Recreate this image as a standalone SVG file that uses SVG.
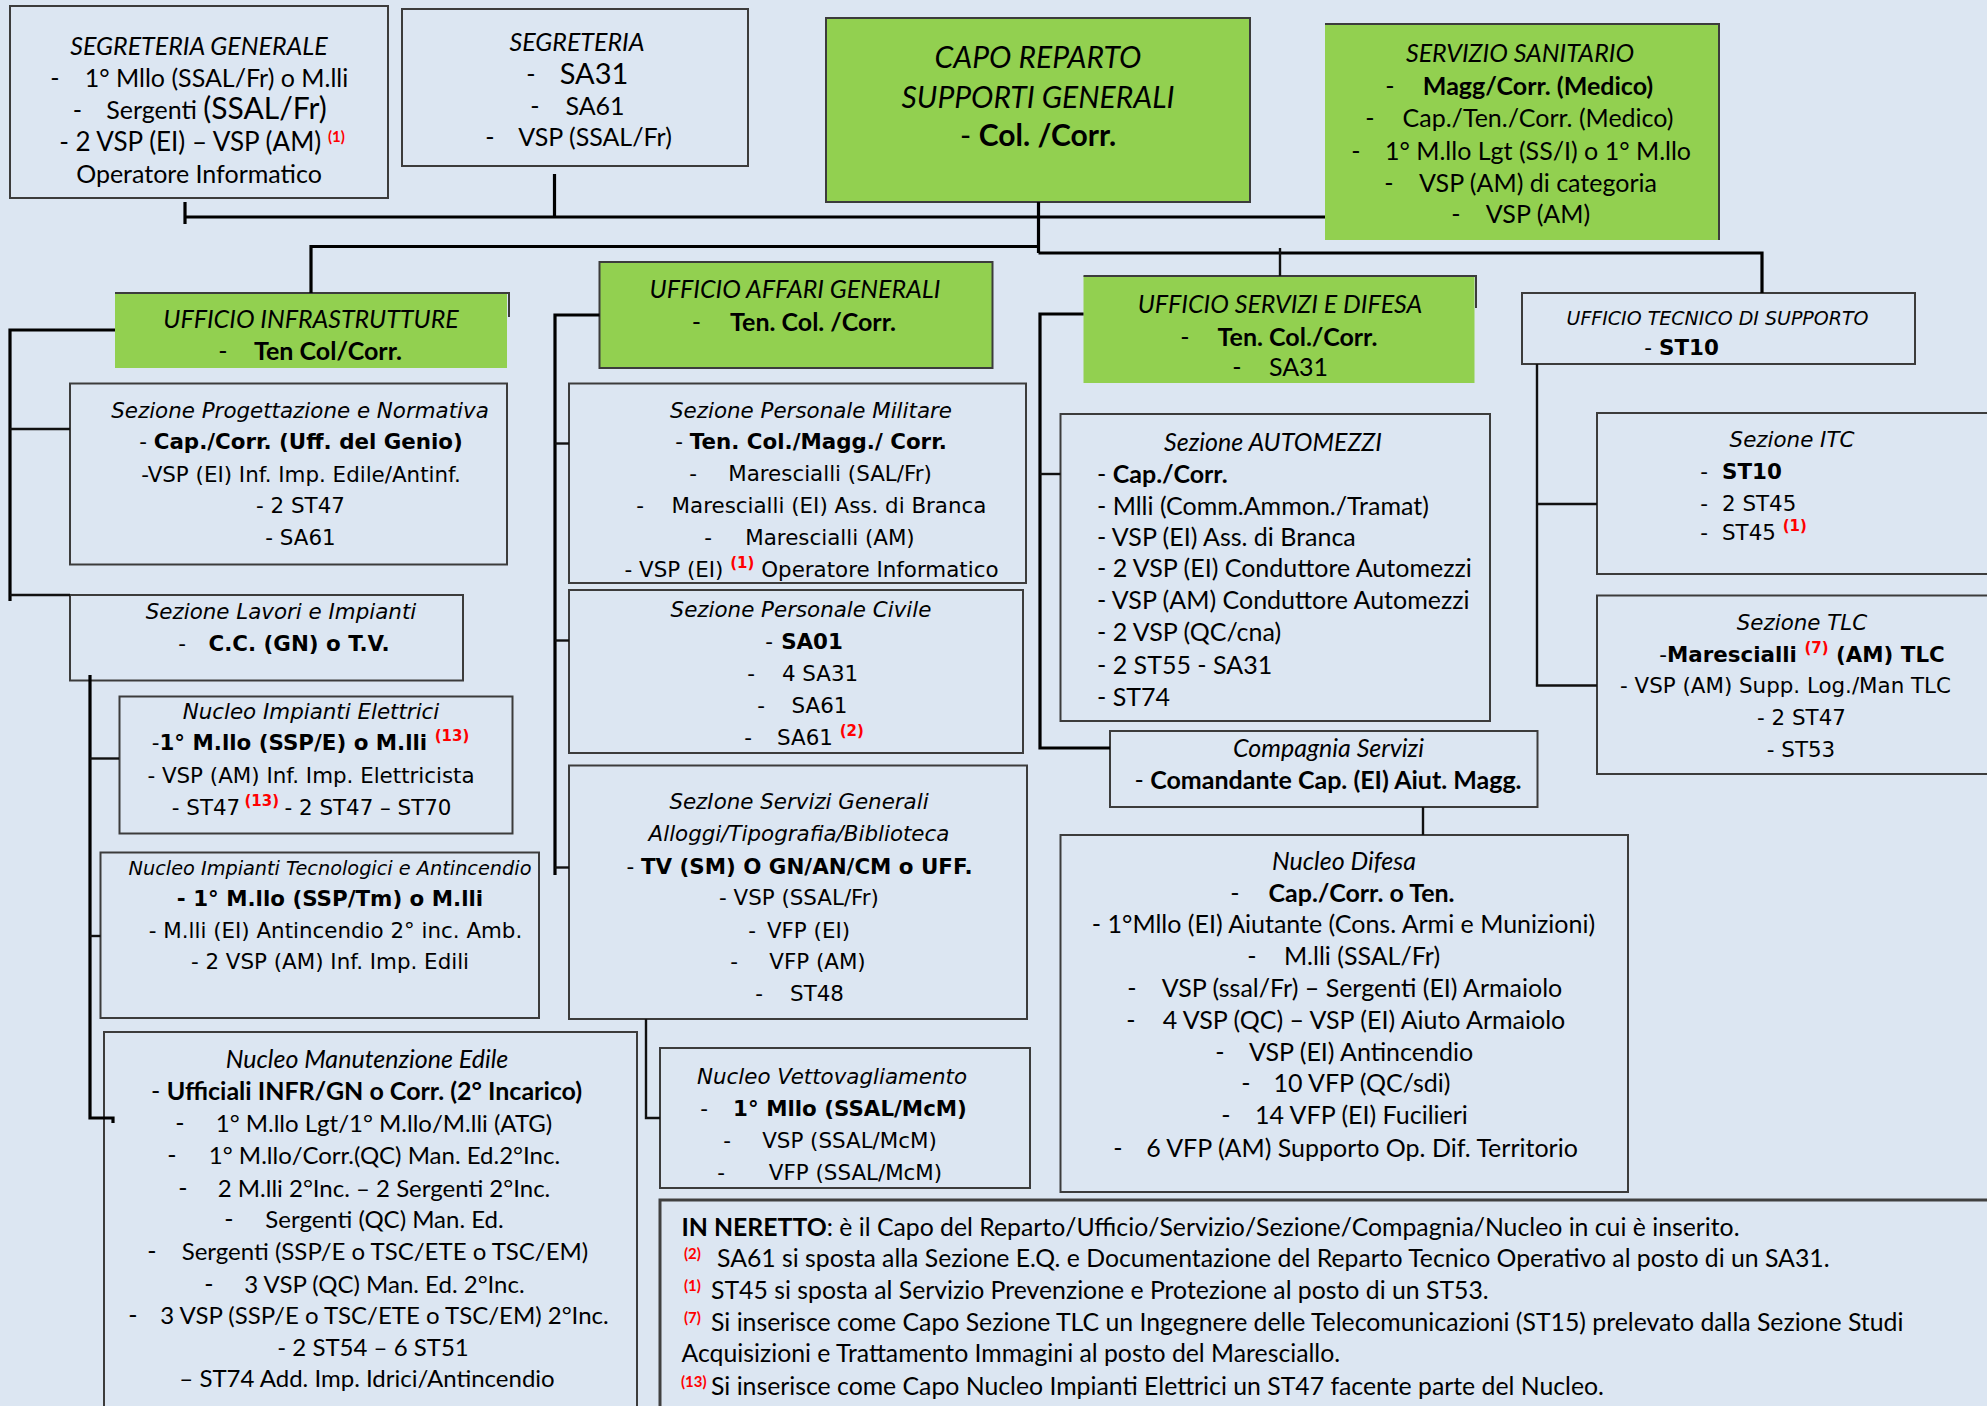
<svg xmlns="http://www.w3.org/2000/svg" width="1987" height="1406" viewBox="0 0 1987 1406">
<style>
.bg{fill:#DCE6F2}
.box{fill:#DCE6F2;stroke:#3C3C3C;stroke-width:2}
.gbox{fill:#92D050;stroke:#3C3C3C;stroke-width:2}
.gfill{fill:#92D050}
.edge{fill:none;stroke:#3C3C3C;stroke-width:2}
.leg{fill:#DCE6F2;stroke:#404040;stroke-width:3}
.bus{fill:none;stroke:#000;stroke-width:3.2}
.br{fill:none;stroke:#111;stroke-width:2.4}
text{fill:#000}
.c{font-family:Lato,"Liberation Sans",sans-serif;font-size:25px}
.v{font-family:"DejaVu Sans",Verdana,sans-serif;font-size:21.4px}
.i{font-style:italic}
.b{font-weight:bold}
.m{text-anchor:middle}
.s{fill:#FF0000;font-weight:bold;font-size:15px;font-style:normal}
.n24{font-size:24px}
.lg{font-size:24.8px}
</style>
<rect class="bg" x="0" y="0" width="1987" height="1406"/>

<g id="segreteria-generale">
<rect class="box" x="10" y="6" width="378" height="192"/>
<text class="c i m" x="199" y="55">SEGRETERIA GENERALE</text>
<text class="c m" x="55" y="87">-</text>
<text class="c m" x="216.5" y="87">1° Mllo (SSAL/Fr) o M.lli</text>
<text class="c m" x="77.5" y="119">-</text>
<text class="c m" x="216.5" y="119">Sergenti <tspan style="font-size:30px">(SSAL/Fr)</tspan></text>
<text class="c m" x="202" y="151" style="font-size:26px">- 2 VSP (EI) – VSP (AM) <tspan class="s" dy="-9">(1)</tspan></text>
<text class="c m" x="199" y="183">Operatore Informatico</text>
</g>

<g id="segreteria">
<rect class="box" x="402" y="9" width="346" height="157"/>
<text class="c i m" x="577" y="51">SEGRETERIA</text>
<text class="c m" x="531" y="83">-</text>
<text class="c m" x="594" y="84" style="font-size:29px">SA31</text>
<text class="c m" x="535" y="115">-</text>
<text class="c m" x="595" y="115">SA61</text>
<text class="c m" x="490" y="146">-</text>
<text class="c m" x="595" y="146">VSP (SSAL/Fr)</text>
</g>

<g id="capo-reparto">
<rect class="gbox" x="826" y="18" width="424" height="184"/>
<text class="c i m" x="1038" y="68" style="font-size:30px">CAPO REPARTO</text>
<text class="c i m" x="1038" y="108" style="font-size:30px">SUPPORTI GENERALI</text>
<text class="c m" x="1038" y="146" style="font-size:30px">- <tspan class="b">Col. /Corr.</tspan></text>
</g>

<g id="servizio-sanitario">
<rect class="gfill" x="1325" y="24" width="394" height="216"/>
<path class="edge" d="M1325 24 H1719 V240"/>
<text class="c i m" x="1520" y="62">SERVIZIO SANITARIO</text>
<text class="c m" x="1390" y="95">-</text>
<text class="c b m" x="1538" y="95">Magg/Corr. (Medico)</text>
<text class="c m" x="1370" y="127">-</text>
<text class="c m" x="1538" y="127">Cap./Ten./Corr. (Medico)</text>
<text class="c m" x="1356" y="160">-</text>
<text class="c m" x="1538" y="160">1° M.llo Lgt (SS/I) o 1° M.llo</text>
<text class="c m" x="1389" y="192">-</text>
<text class="c m" x="1538" y="192">VSP (AM) di categoria</text>
<text class="c m" x="1456" y="223">-</text>
<text class="c m" x="1538" y="223">VSP (AM)</text>
</g>

<g id="ufficio-infrastrutture">
<rect class="gfill" x="115" y="293" width="392" height="75"/>
<path class="edge" d="M115 293 H509 V317"/>
<text class="c i m" x="311" y="328">UFFICIO INFRASTRUTTURE</text>
<text class="c m" x="223" y="360">-</text>
<text class="c b m" x="328" y="360">Ten Col/Corr.</text>
</g>

<g id="ufficio-affari-generali">
<rect class="gbox" x="599.5" y="262" width="393" height="106"/>
<text class="c i m" x="795" y="298">UFFICIO AFFARI GENERALI</text>
<text class="c m" x="696.5" y="331">-</text>
<text class="c b m" x="813" y="331">Ten. Col. /Corr.</text>
</g>

<g id="ufficio-servizi-difesa">
<rect class="gfill" x="1083.5" y="276" width="391" height="107"/>
<path class="edge" d="M1083.5 276 H1476 V308"/>
<text class="c i m" x="1280" y="313">UFFICIO SERVIZI E DIFESA</text>
<text class="c m" x="1185" y="346">-</text>
<text class="c b m" x="1297.5" y="346">Ten. Col./Corr.</text>
<text class="c m" x="1237" y="376">-</text>
<text class="c m" x="1298.5" y="376">SA31</text>
</g>

<g id="ufficio-tecnico">
<rect class="box" x="1522" y="293" width="393" height="71"/>
<text class="v i m" x="1717.5" y="325" style="font-size:19px">UFFICIO TECNICO DI SUPPORTO</text>
<text class="v m" x="1648" y="355">-</text>
<text class="v b m" x="1689" y="355">ST10</text>
</g>

<g id="sezione-progettazione">
<rect class="box" x="70" y="383.5" width="437" height="181"/>
<text class="v i m" x="300" y="417.5">Sezione Progettazione e Normativa</text>
<text class="v m" x="301" y="449">- <tspan class="b">Cap./Corr. (Uff. del Genio)</tspan></text>
<text class="v m" x="301" y="481.5">-VSP (EI) Inf. Imp. Edile/Antinf.</text>
<text class="v m" x="300.5" y="513">- 2 ST47</text>
<text class="v m" x="300.5" y="545">- SA61</text>
</g>

<g id="sezione-lavori">
<rect class="box" x="70" y="595" width="393" height="85.5"/>
<text class="v i m" x="281" y="618.5">Sezione Lavori e Impianti</text>
<text class="v m" x="182" y="651">-</text>
<text class="v b m" x="299" y="651">C.C. (GN) o T.V.</text>
</g>

<g id="nucleo-impianti-elettrici">
<rect class="box" x="119.5" y="696.5" width="393" height="137"/>
<text class="v i m" x="311" y="718.5">Nucleo Impianti Elettrici</text>
<text class="v m" x="310.5" y="750">-<tspan class="b">1° M.llo (SSP/E) o M.lli </tspan><tspan class="s" dy="-9">(13)</tspan></text>
<text class="v m" x="311" y="782.5">- VSP (AM) Inf. Imp. Elettricista</text>
<text class="v m" x="206" y="814.5">- ST47</text>
<text class="v s" x="244.5" y="805.5">(13)</text>
<text class="v m" x="368" y="814.5">- 2 ST47 – ST70</text>
</g>

<g id="nucleo-impianti-tecnologici">
<rect class="box" x="100.5" y="852.5" width="438.5" height="165.5"/>
<text class="v i m" x="330" y="875" style="font-size:19.3px">Nucleo Impianti Tecnologici e Antincendio</text>
<text class="v b m" x="330" y="905.5">- 1° M.llo (SSP/Tm) o M.lli</text>
<text class="v m" x="335.5" y="937.5">- M.lli (EI) Antincendio 2° inc. Amb.</text>
<text class="v m" x="330" y="968.5">- 2 VSP  (AM) Inf. Imp. Edili</text>
</g>

<g id="nucleo-manutenzione-edile">
<rect class="box" x="104" y="1032" width="533" height="400"/>
<text class="c i m" x="367" y="1068">Nucleo Manutenzione Edile</text>
<text class="c m" x="366.5" y="1100">- <tspan class="b">Ufficiali INFR/GN o Corr. (2° Incarico)</tspan></text>
<text class="c m" x="180" y="1132">-</text>
<text class="c m n24" x="384" y="1132">1° M.llo Lgt/1° M.llo/M.lli (ATG)</text>
<text class="c m" x="172" y="1164">-</text>
<text class="c m n24" x="384.5" y="1164">1° M.llo/Corr.(QC) Man. Ed.2°Inc.</text>
<text class="c m" x="183" y="1197">-</text>
<text class="c m n24" x="384" y="1197">2 M.lli 2°Inc. – 2 Sergenti 2°Inc.</text>
<text class="c m" x="229" y="1228">-</text>
<text class="c m n24" x="384.5" y="1228">Sergenti (QC) Man. Ed.</text>
<text class="c m" x="152" y="1260">-</text>
<text class="c m n24" x="385" y="1260">Sergenti (SSP/E o TSC/ETE o TSC/EM)</text>
<text class="c m" x="209" y="1293">-</text>
<text class="c m n24" x="384.5" y="1293">3 VSP (QC) Man. Ed. 2°Inc.</text>
<text class="c m" x="133" y="1324">-</text>
<text class="c m n24" x="384.5" y="1324">3 VSP (SSP/E o TSC/ETE o TSC/EM) 2°Inc.</text>
<text class="c m n24" x="373" y="1356">- 2 ST54 – 6 ST51</text>
<text class="c m n24" x="367" y="1387">–  ST74 Add. Imp. Idrici/Antincendio</text>
</g>

<g id="sezione-personale-militare">
<rect class="box" x="569" y="383.5" width="457" height="199.5"/>
<text class="v i m" x="811" y="417.5">Sezione Personale Militare</text>
<text class="v m" x="811" y="449">- <tspan class="b">Ten. Col./Magg./ Corr.</tspan></text>
<text class="v m" x="693" y="480.5">-</text>
<text class="v m" x="830" y="480.5">Marescialli (SAL/Fr)</text>
<text class="v m" x="640" y="513">-</text>
<text class="v m" x="829" y="513">Marescialli (EI) Ass. di Branca</text>
<text class="v m" x="708" y="545">-</text>
<text class="v m" x="830" y="545">Marescialli (AM)</text>
<text class="v m" x="811.5" y="576.5">- VSP (EI) <tspan class="s" dy="-9">(1)</tspan><tspan dy="9"> Operatore Informatico</tspan></text>
</g>

<g id="sezione-personale-civile">
<rect class="box" x="569" y="590" width="454" height="163"/>
<text class="v i m" x="801" y="616.5">Sezione Personale Civile</text>
<text class="v m" x="769" y="649">-</text>
<text class="v b m" x="812" y="649">SA01</text>
<text class="v m" x="751" y="680.5">-</text>
<text class="v m" x="820" y="680.5">4 SA31</text>
<text class="v m" x="761" y="713">-</text>
<text class="v m" x="819.5" y="713">SA61</text>
<text class="v m" x="748" y="744.5">-</text>
<text class="v m" x="820.5" y="744.5">SA61 <tspan class="s" dy="-9">(2)</tspan></text>
</g>

<g id="sezione-servizi-generali">
<rect class="box" x="569" y="765.5" width="458" height="253.5"/>
<text class="v i m" x="799" y="808.5">SezIone Servizi Generali</text>
<text class="v i m" x="799" y="840.5">Alloggi/Tipografia/Biblioteca</text>
<text class="v m" x="799.5" y="873.5">- <tspan class="b">TV (SM) O GN/AN/CM o UFF.</tspan></text>
<text class="v m" x="799" y="904.5">- VSP (SSAL/Fr)</text>
<text class="v m" x="752" y="937.5">-</text>
<text class="v m" x="808.5" y="937.5">VFP (EI)</text>
<text class="v m" x="734" y="968.5">-</text>
<text class="v m" x="817.5" y="968.5">VFP (AM)</text>
<text class="v m" x="759" y="1000.5">-</text>
<text class="v m" x="817" y="1000.5">ST48</text>
</g>

<g id="nucleo-vettovagliamento">
<rect class="box" x="660" y="1048" width="370" height="140"/>
<text class="v i m" x="832" y="1083.5">Nucleo Vettovagliamento</text>
<text class="v m" x="704" y="1115.5">-</text>
<text class="v b m" x="850" y="1115.5">1° Mllo (SSAL/McM)</text>
<text class="v m" x="727" y="1147.5">-</text>
<text class="v m" x="849.5" y="1147.5">VSP (SSAL/McM)</text>
<text class="v m" x="721" y="1179.5">-</text>
<text class="v m" x="855.5" y="1179.5">VFP (SSAL/McM)</text>
</g>

<g id="sezione-automezzi">
<rect class="box" x="1060.5" y="414" width="429.5" height="307"/>
<text class="c i m" x="1273" y="451">Sezione AUTOMEZZI</text>
<text class="c" x="1097" y="483">- <tspan class="b">Cap./Corr.</tspan></text>
<text class="c" x="1097" y="515">- Mlli (Comm.Ammon./Tramat)</text>
<text class="c" x="1097" y="546">- VSP (EI) Ass. di Branca</text>
<text class="c" x="1097" y="577">- 2 VSP (EI) Conduttore Automezzi</text>
<text class="c" x="1097" y="609">- VSP (AM) Conduttore Automezzi</text>
<text class="c" x="1097" y="641">- 2 VSP (QC/cna)</text>
<text class="c" x="1097" y="674">- 2 ST55 - SA31</text>
<text class="c" x="1097" y="706">- ST74</text>
</g>

<g id="compagnia-servizi">
<rect class="box" x="1110" y="731" width="427.5" height="76"/>
<text class="c i m" x="1328.5" y="757">Compagnia Servizi</text>
<text class="c m" x="1328" y="789">- <tspan class="b">Comandante Cap. (EI) Aiut. Magg.</tspan></text>
</g>

<g id="nucleo-difesa">
<rect class="box" x="1060.5" y="835" width="567.5" height="357"/>
<text class="c i m" x="1344" y="870">Nucleo Difesa</text>
<text class="c m" x="1235" y="902">-</text>
<text class="c b m" x="1361.5" y="902">Cap./Corr. o Ten.</text>
<text class="c m" x="1343.5" y="933">- 1°Mllo (EI) Aiutante (Cons. Armi e Munizioni)</text>
<text class="c m" x="1252" y="965">-</text>
<text class="c m" x="1362" y="965">M.lli (SSAL/Fr)</text>
<text class="c m" x="1132" y="997">-</text>
<text class="c m" x="1362" y="997">VSP (ssal/Fr) – Sergenti (EI) Armaiolo</text>
<text class="c m" x="1131" y="1029">-</text>
<text class="c m" x="1364" y="1029">4 VSP (QC) – VSP (EI) Aiuto Armaiolo</text>
<text class="c m" x="1220" y="1061">-</text>
<text class="c m" x="1361" y="1061">VSP (EI) Antincendio</text>
<text class="c m" x="1246" y="1092">-</text>
<text class="c m" x="1362" y="1092">10 VFP (QC/sdi)</text>
<text class="c m" x="1226" y="1124">-</text>
<text class="c m" x="1361.5" y="1124">14 VFP (EI) Fucilieri</text>
<text class="c m" x="1118" y="1157">-</text>
<text class="c m" x="1362" y="1157">6 VFP (AM) Supporto Op. Dif. Territorio</text>
</g>

<g id="sezione-itc">
<rect class="box" x="1597" y="413" width="400" height="161"/>
<text class="v i m" x="1792" y="447">Sezione ITC</text>
<text class="v m" x="1704" y="478.5">-</text>
<text class="v b" x="1722" y="478.5">ST10</text>
<text class="v m" x="1704" y="510.5">-</text>
<text class="v" x="1722" y="510.5">2 ST45</text>
<text class="v m" x="1704" y="539.5">-</text>
<text class="v" x="1722" y="539.5">ST45 <tspan class="s" dy="-9">(1)</tspan></text>
</g>

<g id="sezione-tlc">
<rect class="box" x="1597" y="595.5" width="400" height="178.5"/>
<text class="v i m" x="1802" y="629.5">Sezione TLC</text>
<text class="v m" x="1802" y="661.5">-<tspan class="b">Marescialli </tspan><tspan class="s" dy="-9">(7)</tspan><tspan class="b" dy="9"> (AM) TLC</tspan></text>
<text class="v m" x="1785.5" y="693">- VSP (AM) Supp. Log./Man TLC</text>
<text class="v m" x="1801.5" y="724.5">- 2 ST47</text>
<text class="v m" x="1801" y="756.5">- ST53</text>
</g>

<g id="legenda">
<rect class="leg" x="660" y="1200" width="1340" height="220"/>
<text class="c lg" x="681.5" y="1236"><tspan class="b">IN NERETTO</tspan>: è il Capo del Reparto/Ufficio/Servizio/Sezione/Compagnia/Nucleo in cui è inserito.</text>
<text class="c s" x="684" y="1259">(2)</text>
<text class="c lg" x="717" y="1267">SA61 si sposta alla Sezione E.Q. e Documentazione del Reparto Tecnico Operativo al posto di un SA31.</text>
<text class="c s" x="684" y="1291">(1)</text>
<text class="c lg" x="711" y="1299">ST45 si sposta al Servizio Prevenzione e Protezione al posto di un ST53.</text>
<text class="c s" x="684" y="1323">(7)</text>
<text class="c lg" x="711" y="1331">Si inserisce come Capo Sezione TLC un Ingegnere delle Telecomunicazioni (ST15) prelevato dalla Sezione Studi</text>
<text class="c lg" x="681.5" y="1362">Acquisizioni e Trattamento Immagini al posto del Maresciallo.</text>
<text class="c s" x="681" y="1387">(13)</text>
<text class="c lg" x="711" y="1395">Si inserisce come Capo Nucleo Impianti Elettrici un ST47 facente parte del Nucleo.</text>
</g>

<g id="connectors">
<path class="bus" d="M185 217 H1325"/>
<path class="bus" d="M185 202 V224"/>
<path class="bus" d="M554.5 174 V217"/>
<path class="bus" d="M1038.5 202 V253"/>
<path class="bus" d="M311 293 V246.5 H1038.5"/>
<path class="bus" d="M1038.5 253 H1762 V293"/>
<path class="br" d="M1280 248 V276"/>
<path class="bus" d="M115 330 H10 V601"/>
<path class="br" d="M10 429 H70"/>
<path class="br" d="M10 595 H70"/>
<path class="bus" d="M90 675 V1118 H113 V1123"/>
<path class="br" d="M90 758.5 H119"/>
<path class="br" d="M90 936 H100.5"/>
<path class="bus" d="M599.5 315 H555 V875"/>
<path class="br" d="M555 443.5 H569"/>
<path class="br" d="M555 640.5 H569"/>
<path class="br" d="M555 867.5 H569"/>
<path class="br" d="M646 1019 V1118 H660"/>
<path class="bus" d="M1083.5 314 H1040 V748 H1110"/>
<path class="br" d="M1040 474 H1060.5"/>
<path class="br" d="M1423 807 V835"/>
<path class="br" d="M1537 364 V685.5 H1597"/>
<path class="br" d="M1537 504 H1597"/>
</g>
</svg>
